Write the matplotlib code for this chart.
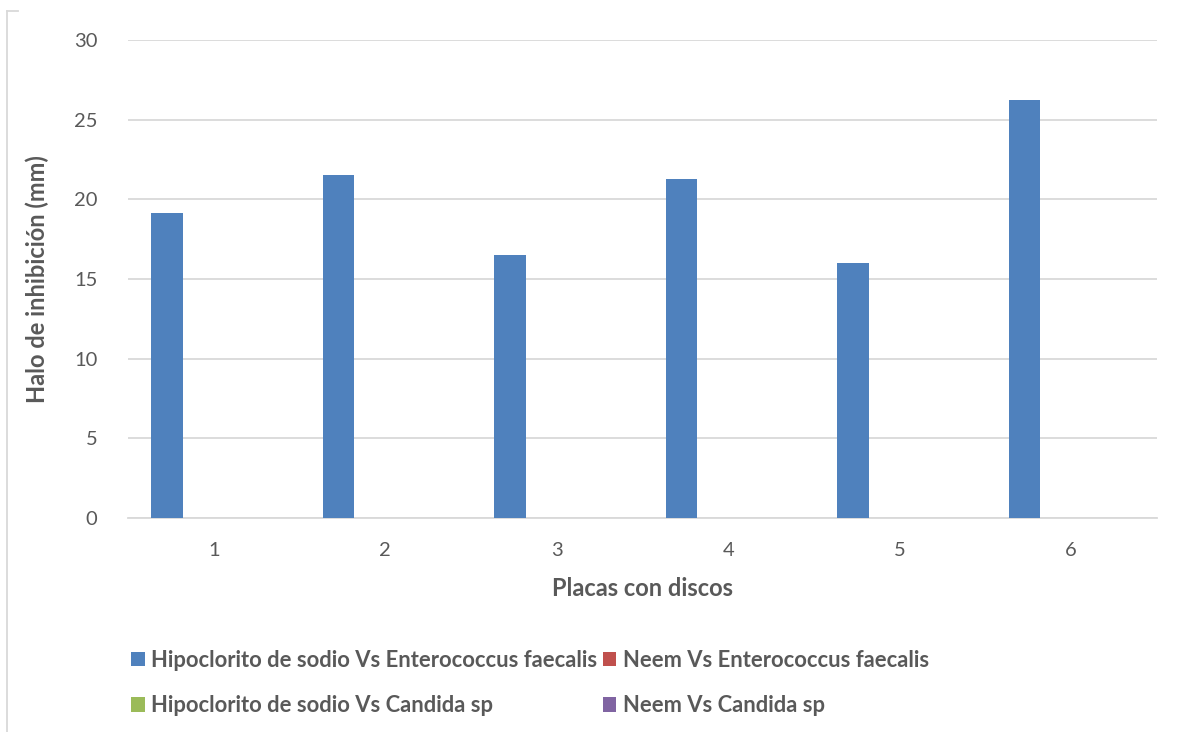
import matplotlib
matplotlib.use("Agg")
import matplotlib.pyplot as plt
from matplotlib.patches import Patch
from matplotlib.lines import Line2D
import numpy as np

plt.rcParams['font.family'] = ['Lato', 'DejaVu Sans']

# Plates (categories) and inhibition halo per treatment, in mm
plates = ["1", "2", "3", "4", "5", "6"]
series_names = [
    "Hipoclorito de sodio Vs Enterococcus faecalis",
    "Neem Vs Enterococcus faecalis",
    "Hipoclorito de sodio Vs Candida sp",
    "Neem Vs Candida sp",
]
hipoclorito_enterococcus = [19.15, 21.5, 16.5, 21.3, 16.0, 26.25]
neem_enterococcus = [0, 0, 0, 0, 0, 0]
hipoclorito_candida = [0, 0, 0, 0, 0, 0]
neem_candida = [0, 0, 0, 0, 0, 0]
y_ticks = [0, 5, 10, 15, 20, 25, 30]

series_values = [hipoclorito_enterococcus, neem_enterococcus,
                 hipoclorito_candida, neem_candida]
colors = ["#4F81BD", "#C0504D", "#9BBB59", "#8064A2"]
text_color = "#595959"
grid_color = "#D9D9D9"

W, H = 1177, 732
fig = plt.figure(figsize=(W / 100, H / 100), dpi=100)
ax = fig.add_axes([128 / W, 1 - 518 / H, (1157 - 128) / W, (518 - 40) / H])

# Clustered bars: 4 series per plate, gap between clusters = 150% of a bar
n = len(series_values)
gap = 1.5
w = 1.0 / (n + gap)
x = np.arange(len(plates))
for i, (vals, col) in enumerate(zip(series_values, colors)):
    offs = -0.5 + (gap / 2 + i + 0.5) * w
    ax.bar(x + offs, vals, width=w, color=col, linewidth=0, zorder=3)

ax.set_xlim(-0.5, len(plates) - 0.5)
ax.set_ylim(0, 30)
ax.set_yticks(y_ticks)
ax.set_xticks(x)
ax.set_xticklabels(plates)
ax.yaxis.grid(True, color=grid_color, linewidth=1.3, zorder=0)
ax.set_axisbelow(True)
for s in ["top", "right", "left"]:
    ax.spines[s].set_visible(False)
ax.spines["bottom"].set_color(grid_color)
ax.spines["bottom"].set_linewidth(1.3)
ax.tick_params(axis="both", length=0, labelsize=14.5, colors=text_color)
ax.tick_params(axis="y", pad=22)
ax.tick_params(axis="x", pad=17)

fig.text(37 / W, 1 - 279 / H, "Halo de inhibición (mm)", rotation=90,
         ha="center", va="center", fontsize=17, fontweight="bold",
         color=text_color)
fig.text(642 / W, 1 - 589 / H, "Placas con discos", ha="center",
         va="center", fontsize=17, fontweight="bold", color=text_color)

# Legend laid out column-wise: left column series 1 & 3, right column 2 & 4
order = [0, 2, 1, 3]
handles = [Patch(facecolor=colors[k], edgecolor="none") for k in order]
labels = [series_names[k] for k in order]
leg = fig.legend(handles, labels, ncol=2, loc="upper left",
                 bbox_to_anchor=(131 / W, 1 - 650 / H), frameon=False,
                 fontsize=15.8, handlelength=0.62, handleheight=0.62,
                 handletextpad=0.3, columnspacing=0.25, labelspacing=1.1,
                 borderaxespad=0, borderpad=0)
for t in leg.get_texts():
    t.set_color(text_color)
    t.set_fontweight("bold")

# Chart-area border fragment at the upper-left
fig.add_artist(Line2D([7 / W, 7 / W], [0, 1 - 11 / H], color="#D9D9D9",
                      linewidth=1.3, transform=fig.transFigure))
fig.add_artist(Line2D([7 / W, 18 / W], [1 - 11 / H, 1 - 11 / H],
                      color="#D9D9D9", linewidth=1.3,
                      transform=fig.transFigure))

fig.savefig("out.png", dpi=100)
